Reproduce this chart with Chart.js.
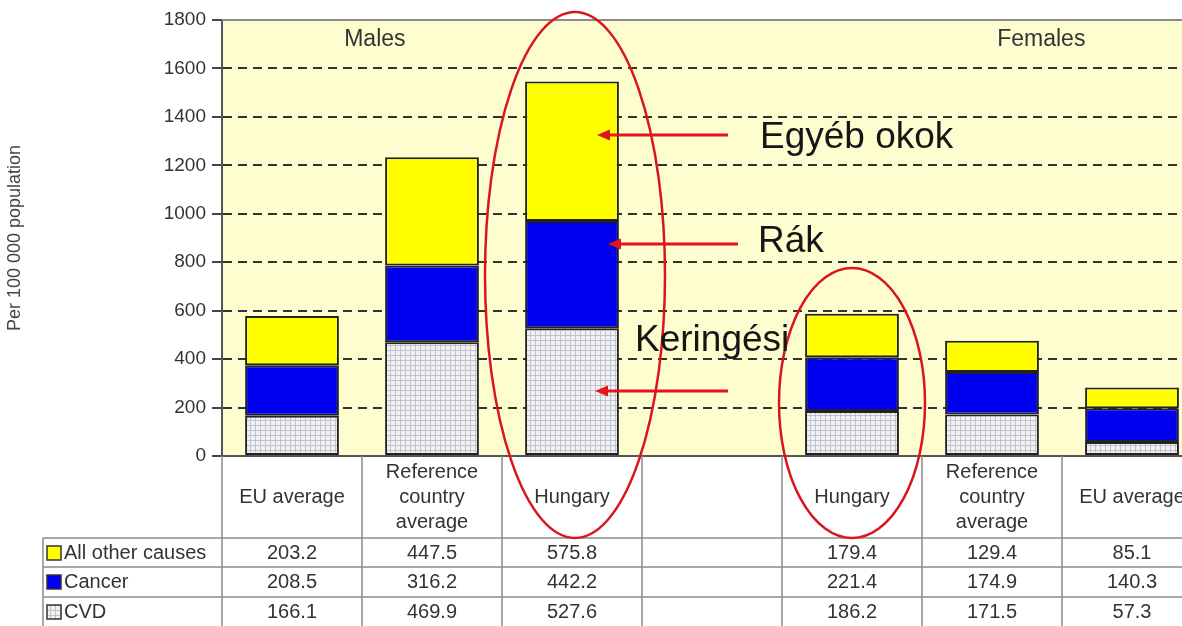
<!DOCTYPE html>
<html><head><meta charset="utf-8">
<script src="https://cdn.jsdelivr.net/npm/chart.js@4/dist/chart.umd.min.js"></script>
<style>
html,body{margin:0;padding:0;overflow:hidden;background:#fff;width:1182px;height:626px}
#wrap{position:absolute;left:0;top:0;width:1215px;height:626px}
</style></head><body>
<div id="wrap"><canvas id="c" width="1215" height="626"></canvas></div>
<script>
// ---- data ----
const categories = [['EU average'], ['Reference','country','average'], ['Hungary'], [''], ['Hungary'], ['Reference','country','average'], ['EU average']];
const seriesNames = ['All other causes', 'Cancer', 'CVD'];
const otherCauses = [203.2, 447.5, 575.8, null, 179.4, 129.4, 85.1];
const cancer      = [208.5, 316.2, 442.2, null, 221.4, 174.9, 140.3];
const cvd         = [166.1, 469.9, 527.6, null, 186.2, 171.5, 57.3];
const yMin = 0, yMax = 1800, yStep = 200;
const yTitle = 'Per 100 000 population';
const groupLabels = ['Males', 'Females'];
const annotationTexts = ['Egyéb okok', 'Rák', 'Keringési'];
// value levels (on y scale) where the annotation arrows point at Hungary males bar
const arrowValues = [1325, 875, 268];

const FONT = "'Liberation Sans', Arial, sans-serif";

function cvdPattern() {
  const c = document.createElement('canvas');
  c.width = 5; c.height = 5;
  const g = c.getContext('2d');
  g.fillStyle = '#f1f1f5'; g.fillRect(0, 0, 5, 5);
  g.fillStyle = '#c2c2ca'; g.fillRect(0, 0, 5, 1); g.fillRect(0, 0, 1, 5);
  return g.createPattern(c, 'repeat');
}
const cvdFill = cvdPattern();
const seriesColors = ['#FFFF00', '#0000F0', cvdFill];

const decor = {
  id: 'decor',
  beforeDraw(chart) {
    const { ctx, chartArea: a } = chart;
    ctx.save();
    ctx.fillStyle = '#FEFDD0';
    ctx.fillRect(a.left, a.top, a.right - a.left, a.bottom - a.top);
    ctx.restore();
  },
  beforeDatasetsDraw(chart) {
    const { ctx, chartArea: a, scales: { y } } = chart;
    ctx.save();
    const yt = y.getPixelForValue(yMax);
    ctx.strokeStyle = '#8a8a8a'; ctx.lineWidth = 2;
    ctx.beginPath(); ctx.moveTo(a.left, yt); ctx.lineTo(a.right, yt); ctx.stroke();
    ctx.fillStyle = '#333'; ctx.font = '23px ' + FONT;
    ctx.textAlign = 'center'; ctx.textBaseline = 'middle';
    const w = a.right - a.left;
    ctx.fillText(groupLabels[0], a.left + w * 0.156, a.top + 20);
    ctx.fillText(groupLabels[1], a.left + w * 0.836, a.top + 20);
    ctx.restore();
  },
  afterDraw(chart) {
    const { ctx, chartArea: a, scales: { x, y } } = chart;
    const H = chart.height, W = chart.width;
    const n = categories.length;
    const catW = (a.right - a.left) / n;
    const rowTops = [538, 567, 597];
    const rowMid = [553, 582, 612];
    const rows = [otherCauses, cancer, cvd];
    ctx.save();
    ctx.strokeStyle = '#8c8c8c'; ctx.lineWidth = 1.5;
    ctx.beginPath();
    rowTops.forEach(t => { ctx.moveTo(43, t); ctx.lineTo(W, t); });
    ctx.moveTo(43, rowTops[0]); ctx.lineTo(43, H);
    for (let i = 0; i <= n; i++) {
      const bx = a.left + i * catW;
      ctx.moveTo(bx, a.bottom); ctx.lineTo(bx, H);
    }
    ctx.stroke();
    ctx.fillStyle = '#333'; ctx.font = '20px ' + FONT;
    ctx.textAlign = 'center'; ctx.textBaseline = 'middle';
    categories.forEach((lines, i) => {
      const cx = x.getPixelForValue(i);
      const y0 = 497 - (lines.length - 1) * 12.5;
      lines.forEach((t, k) => ctx.fillText(t, cx, y0 + k * 25));
    });
    rows.forEach((arr, r) => {
      arr.forEach((v, i) => {
        if (v === null) return;
        ctx.fillText(v.toFixed(1), x.getPixelForValue(i), rowMid[r]);
      });
    });
    ctx.textAlign = 'left';
    seriesNames.forEach((name, r) => {
      ctx.fillStyle = seriesColors[r];
      ctx.fillRect(47, rowMid[r] - 7, 14, 14);
      ctx.strokeStyle = '#333'; ctx.lineWidth = 1.5;
      ctx.strokeRect(47, rowMid[r] - 7, 14, 14);
      ctx.fillStyle = '#333';
      ctx.fillText(name, 64, rowMid[r]);
    });
    ctx.strokeStyle = '#DA1520'; ctx.lineWidth = 2.5;
    ctx.beginPath();
    ctx.ellipse(x.getPixelForValue(2) + 3, 275, 90, 263, 0, 0, Math.PI * 2);
    ctx.stroke();
    ctx.beginPath();
    ctx.ellipse(x.getPixelForValue(4), 403, 73, 135, 0, 0, Math.PI * 2);
    ctx.stroke();
    const hx = x.getPixelForValue(2);
    const arrows = [[hx + 25, 728], [hx + 36, 738], [hx + 23, 728]];
    ctx.strokeStyle = '#E3141C'; ctx.fillStyle = '#E3141C'; ctx.lineWidth = 3;
    arrows.forEach(([tip, tail], k) => {
      const ay = y.getPixelForValue(arrowValues[k]);
      ctx.beginPath(); ctx.moveTo(tail, ay); ctx.lineTo(tip + 8, ay); ctx.stroke();
      ctx.beginPath(); ctx.moveTo(tip, ay); ctx.lineTo(tip + 13, ay - 5.5); ctx.lineTo(tip + 13, ay + 5.5); ctx.closePath(); ctx.fill();
    });
    ctx.fillStyle = '#161616'; ctx.font = '37px ' + FONT;
    ctx.textAlign = 'left'; ctx.textBaseline = 'alphabetic';
    ctx.fillText(annotationTexts[0], 760, 148);
    ctx.fillText(annotationTexts[1], 758, 252);
    ctx.fillText(annotationTexts[2], 635, 351);
    ctx.restore();
  }
};

const barCommon = { borderColor: '#222', borderWidth: 2, borderSkipped: false, barPercentage: 0.67, categoryPercentage: 1.0 };

new Chart(document.getElementById('c'), {
  type: 'bar',
  data: {
    labels: categories.map(l => l.join(' ')),
    datasets: [
      Object.assign({ label: seriesNames[2], data: cvd, backgroundColor: cvdFill }, barCommon),
      Object.assign({ label: seriesNames[1], data: cancer, backgroundColor: seriesColors[1] }, barCommon),
      Object.assign({ label: seriesNames[0], data: otherCauses, backgroundColor: seriesColors[0] }, barCommon)
    ]
  },
  options: {
    responsive: false,
    animation: false,
    layout: { padding: { top: 20, right: 13, bottom: 170, left: 0 } },
    plugins: { legend: { display: false }, tooltip: { enabled: false } },
    scales: {
      x: {
        stacked: true,
        offset: true,
        ticks: { display: false },
        grid: { display: false, drawTicks: false },
        border: { display: true, color: '#555', width: 2 }
      },
      y: {
        stacked: true,
        min: yMin, max: yMax,
        ticks: { stepSize: yStep, color: '#333', font: { size: 19, family: FONT }, padding: 6, callback: v => String(v) },
        grid: { color: '#333', lineWidth: 2, tickLength: 10, tickColor: '#444', tickWidth: 2 },
        border: { display: true, color: '#555', width: 2, dash: [9, 6] },
        title: { display: true, text: yTitle, color: '#444', font: { size: 18, family: FONT }, padding: { top: 4, bottom: 4 } },
        afterFit(s) { s.width = 222; }
      }
    }
  },
  plugins: [decor]
});
</script>
</body></html>
